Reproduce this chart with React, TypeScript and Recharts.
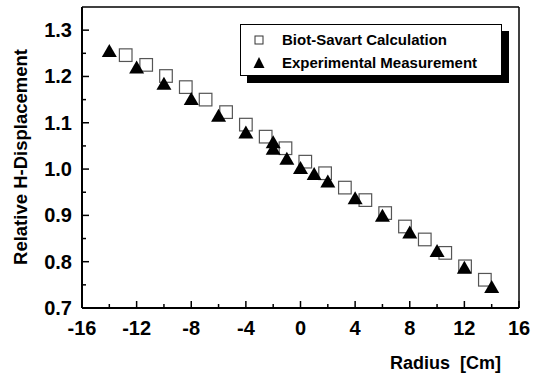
import { ReferenceLine, Scatter, ScatterChart, XAxis, YAxis } from "recharts";

// Biot-Savart calculation (open squares)
const calcRadius = [-12.8, -11.3, -9.85, -8.4, -6.95, -5.45, -4.0, -2.55, -1.1, 0.35, 1.8, 3.25, 4.75, 6.2, 7.65, 9.1, 10.6, 12.05, 13.5];
const calcDisp = [1.246, 1.225, 1.201, 1.177, 1.15, 1.123, 1.096, 1.07, 1.045, 1.016, 0.991, 0.96, 0.933, 0.905, 0.876, 0.848, 0.819, 0.79, 0.761];

// Experimental measurement (filled triangles)
const measRadius = [-14, -12, -10, -8, -6, -4, -2, -2, -1, 0, 1, 2, 4, 6, 8, 10, 12, 14];
const measDisp = [1.253, 1.217, 1.182, 1.149, 1.113, 1.077, 1.056, 1.042, 1.02, 1.0, 0.987, 0.971, 0.935, 0.897, 0.861, 0.821, 0.785, 0.743];

const xTicks = [-16, -14, -12, -10, -8, -6, -4, -2, 0, 2, 4, 6, 8, 10, 12, 14, 16];
const yTicks = [0.7, 0.75, 0.8, 0.85, 0.9, 0.95, 1.0, 1.05, 1.1, 1.15, 1.2, 1.25, 1.3];

const W = 536;
const H = 381;
const LEFT = 82;
const TOP = 7;
const RIGHT = 519;
const BOTTOM = 308;
const FONT = "'Liberation Sans', Arial, sans-serif";

const calcData = calcRadius.map((r, i) => ({ r, d: calcDisp[i] }));
const measData = measRadius.map((r, i) => ({ r, d: measDisp[i] }));

const isMajorX = (v: number) => Math.abs(v % 4) < 1e-6;
const isMajorY = (v: number) => Math.abs(Math.round(v * 10) - v * 10) < 1e-6;

function XTick(props: any) {
  const { x, payload } = props;
  const major = isMajorX(payload.value);
  return (
    <g>
      <line x1={x} x2={x} y1={BOTTOM} y2={BOTTOM - (major ? 7 : 4)} stroke="#000" strokeWidth={1.5} />
      {major && (
        <text x={x} y={BOTTOM + 27} textAnchor="middle" fontFamily={FONT} fontWeight="bold" fontSize={20} fill="#000">
          {payload.value}
        </text>
      )}
    </g>
  );
}

function YTick(props: any) {
  const { y, payload } = props;
  const major = isMajorY(payload.value);
  return (
    <g>
      <line x1={LEFT} x2={LEFT + (major ? 7 : 4)} y1={y} y2={y} stroke="#000" strokeWidth={1.5} />
      {major && (
        <text x={72} y={y + 7} textAnchor="end" fontFamily={FONT} fontWeight="bold" fontSize={20} fill="#000">
          {payload.value.toFixed(1)}
        </text>
      )}
    </g>
  );
}

function Square(props: any) {
  const { cx, cy } = props;
  return <rect x={cx - 6.3} y={cy - 6.3} width={12.6} height={12.6} fill="none" stroke="#555" strokeWidth={1.2} />;
}

function Triangle(props: any) {
  const { cx, cy } = props;
  return <polygon points={`${cx},${cy - 8} ${cx - 7.5},${cy + 5} ${cx + 7.5},${cy + 5}`} fill="#000" />;
}

function LegendBox() {
  return (
    <div
      style={{
        position: "absolute",
        left: 240,
        top: 24,
        width: 262,
        height: 52,
        boxSizing: "border-box",
        border: "1px solid #000",
        boxShadow: "7px 7px 0 #000",
        background: "#fff",
        paddingTop: 3,
        fontFamily: FONT,
        fontWeight: "bold",
        fontSize: 15,
        lineHeight: "23px",
        color: "#000",
      }}
    >
      <div style={{ display: "flex", alignItems: "center" }}>
        <svg width={41} height={14}>
          <rect x={14} y={3} width={8} height={8} fill="none" stroke="#333" strokeWidth={1} />
        </svg>
        <span>Biot-Savart Calculation</span>
      </div>
      <div style={{ display: "flex", alignItems: "center" }}>
        <svg width={41} height={14}>
          <polygon points="18,1 12.5,12 23.5,12" fill="#000" />
        </svg>
        <span>Experimental Measurement</span>
      </div>
    </div>
  );
}

export default function App() {
  return (
    <div style={{ position: "relative", width: W, height: H, background: "#fff" }}>
      <style>{"body{margin:0}"}</style>
      <ScatterChart width={W} height={H} margin={{ top: TOP, right: W - RIGHT, bottom: 0, left: 0 }}>
        <XAxis
          dataKey="r"
          type="number"
          domain={[-16, 16]}
          ticks={xTicks}
          interval={0}
          tick={<XTick />}
          tickLine={false}
          tickSize={0}
          height={H - BOTTOM}
          axisLine={{ stroke: "#000", strokeWidth: 2 }}
        />
        <YAxis
          dataKey="d"
          type="number"
          domain={[0.7, 1.35]}
          ticks={yTicks}
          interval={0}
          tick={<YTick />}
          tickLine={false}
          tickSize={0}
          width={LEFT}
          axisLine={{ stroke: "#000", strokeWidth: 2 }}
        />
        <ReferenceLine x={-16} stroke="#000" strokeWidth={2} />
        <ReferenceLine y={0.7} stroke="#000" strokeWidth={2} />
        <ReferenceLine x={16} stroke="#000" strokeWidth={1.5} />
        <ReferenceLine y={1.35} stroke="#000" strokeWidth={1.5} />
        <Scatter name="Biot-Savart Calculation" data={calcData} shape={<Square />} isAnimationActive={false} />
        <Scatter name="Experimental Measurement" data={measData} shape={<Triangle />} isAnimationActive={false} />
      </ScatterChart>
      <LegendBox />
      <div
        style={{
          position: "absolute",
          left: 390,
          top: 353,
          fontFamily: FONT,
          fontWeight: "bold",
          fontSize: 18,
          lineHeight: "20px",
          whiteSpace: "pre",
        }}
      >
        {"Radius  [Cm]"}
      </div>
      <div
        style={{
          position: "absolute",
          left: 21,
          top: 157,
          transform: "translate(-50%, -50%) rotate(-90deg)",
          fontFamily: FONT,
          fontWeight: "bold",
          fontSize: 18.5,
          lineHeight: "20px",
          whiteSpace: "nowrap",
        }}
      >
        Relative H-Displacement
      </div>
    </div>
  );
}
